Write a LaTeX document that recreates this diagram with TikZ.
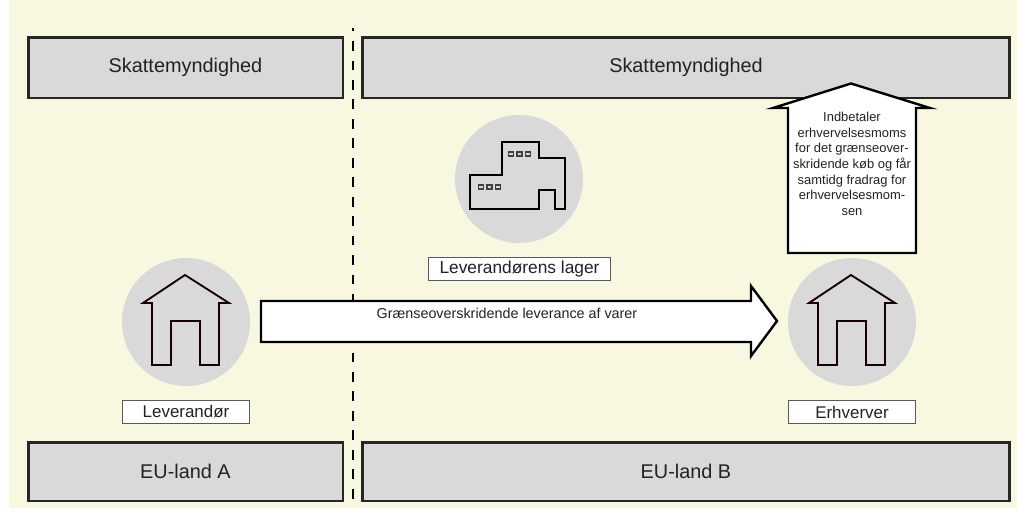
\documentclass[tikz,border=0pt]{standalone}
\usepackage{fontspec}
\setmainfont{Liberation Sans}
\definecolor{bgc}{HTML}{F8F7E0}
\definecolor{boxc}{HTML}{D9D9D9}
\definecolor{txt}{HTML}{222222}
\tikzset{
  region/.style={draw=black!85,line width=1.9pt,fill=boxc,text=txt,inner sep=0pt,font=\fontsize{14.9}{17}\selectfont},
  disc/.style={fill=boxc,draw=none,circle,minimum size=96pt,inner sep=0pt},
  icon/.style={draw=black!90!red,line width=1.4pt,line join=miter,fill=none},
  plant/.style={draw=black,line width=1.9pt,line join=miter,fill=none},
  win/.style={draw=black!75,line width=1pt,fill=none},
  tag/.style={draw=black!65,line width=.9pt,fill=white,text=txt,inner sep=0pt,minimum height=17.5pt,font=\fontsize{12.7}{15}\selectfont},
  bigarrow/.style={draw=black,line width=1.8pt,fill=white,line join=miter,miter limit=20},
  frontier/.style={draw=black,line width=1.4pt,dash pattern=on 7.3pt off 7.3pt,dash phase=4.8pt},
  caption/.style={text=txt,align=center,inner sep=0pt}
}
\begin{document}
\begin{tikzpicture}[x=.75pt,y=-.75pt]
\useasboundingbox (0,0) rectangle (1017,508);
\fill[bgc] (9,0) rectangle (1017,508);
% frontier
\coordinate (ftop) at (353,28);
\coordinate (fbot) at (353,508);
\draw[frontier] (ftop) -- (fbot);
% regions
\node[region,minimum width=235.9pt,minimum height=45.4pt] (skatA) at (185.5,67.5) {Skattemyndighed};
\node[region,minimum width=485.2pt,minimum height=45.4pt] (skatB) at (686,67.5) {Skattemyndighed};
\node[region,minimum width=235.9pt,minimum height=44.2pt] (landA) at (185.5,471.7) {EU-land A};
\node[region,minimum width=485.2pt,minimum height=44.2pt] (landB) at (686,471.7) {EU-land B};
% discs
\node[disc] (discA) at (186,322) {};
\node[disc] (discL) at (519,179) {};
\node[disc] (discE) at (852,322) {};
% houses
\draw[icon] (143,303) -- (185,275) -- (229,303) -- (219,303) -- (219,365) -- (200,365) -- (200,321) -- (171,321) -- (171,365) -- (152,365) -- (152,303) -- cycle;
\begin{scope}[xshift=666*.75pt]
\draw[icon] (143,303) -- (185,275) -- (229,303) -- (219,303) -- (219,365) -- (200,365) -- (200,321) -- (171,321) -- (171,365) -- (152,365) -- (152,303) -- cycle;
\end{scope}
% factory
\draw[plant] (470,209) -- (470,175) -- (502,175) -- (502,142) -- (539,142) -- (539,158) -- (565,158) -- (565,209) -- (555,209) -- (555,190) -- (539,190) -- (539,209) -- cycle;
\foreach \x in {508.3,516.9,525.4} \draw[win] (\x,152) rectangle +(5,4);
\foreach \x in {478.3,487,495.6} \draw[win] (\x,185) rectangle +(5,4);
% tags
\node[tag,minimum width=95.5pt] (lev) at (186,412) {Leverandør};
\node[tag,minimum width=95.5pt] (erh) at (852,412) {Erhverver};
\node[tag,minimum width=137pt,font=\fontsize{13}{15}\selectfont] (lag) at (519.5,269) {Leverandørens lager};
% arrows
\draw[bigarrow] (261,301) -- (751,301) -- (751,286) -- (777,321) -- (751,356) -- (751,342) -- (261,342) -- cycle;
\node[caption,font=\fontsize{10.75}{13}\selectfont] (lvl) at (507,313) {Grænseoverskridende leverance af varer};
\draw[bigarrow] (788,253) -- (788,108) -- (773,108) -- (851,83.5) -- (930,108) -- (916,108) -- (916,253) -- cycle;
\node[caption,font=\fontsize{9.7}{11.7}\selectfont,anchor=north] (moms) at (852,112) {Indbetaler\\erhvervelsesmoms\\for det grænseover-\\skridende køb og får\\samtidg fradrag for\\erhvervelsesmom-\\sen};
\end{tikzpicture}
\end{document}
